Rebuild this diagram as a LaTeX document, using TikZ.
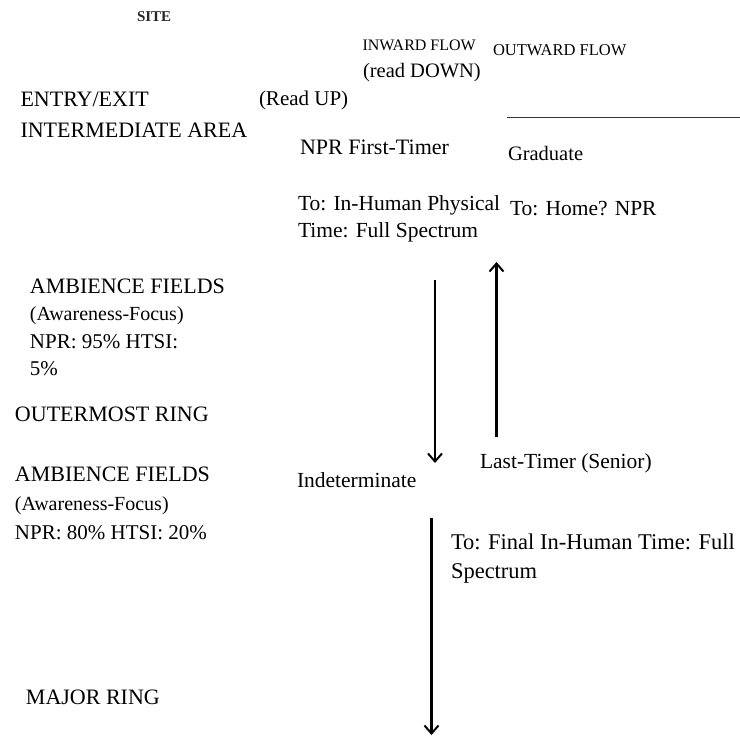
\documentclass[tikz,border=0pt]{standalone}
\usepackage{fontspec}
\setmainfont{Liberation Serif}
\usetikzlibrary{arrows.meta}
\newcommand{\fs}[1]{\fontsize{#1}{#1}\selectfont}
\tikzset{
  lbl/.style={inner sep=0pt, outer sep=0pt, anchor=base west, font=\fs{22}},
  flowarrow/.style={line width=2.5pt, -{Straight Barb[length=8pt,width=14pt,line width=2pt]}},
}
\begin{document}
\begin{tikzpicture}[x=1pt,y=-1pt]
\useasboundingbox (0,0) rectangle (740,737);
% headers
\node[lbl, font=\fs{15}\bfseries, text=black!85] (site) at (137,21) {SITE};
\node[lbl, font=\fs{16}] (inward) at (362.5,50) {INWARD FLOW};
\node[lbl, font=\fs{16.5}] (outward) at (493,55) {OUTWARD FLOW};
\node[lbl, font=\fs{20.5}] (readdown) at (363,77) {(read DOWN)};
\node[lbl, font=\fs{21}] (readup) at (259,105) {(Read UP)};
\node[lbl] (entry) at (20.5,106.5) {ENTRY/EXIT};
\node[lbl] (intermediate) at (20.5,137) {INTERMEDIATE AREA};
\coordinate (rulestart) at (507,117.5);
\coordinate (ruleend) at (740,117.5);
\draw[line width=1.5pt, black!80] (rulestart) -- (ruleend);
% inward / outward texts
\node[lbl] (firsttimer) at (300,154.5) {NPR First-Timer};
\node[lbl, font=\fs{20.5}] (graduate) at (508,160) {Graduate};
\node[lbl, font=\fs{21.5}] (tophys) at (298,210) {To: In-Human Physical};
\node[lbl, font=\fs{21.5}] (timefull) at (298,237) {Time: Full Spectrum};
\node[lbl, font=\fs{21.5}] (tohome) at (510,215) {To: Home? NPR};
% left column
\node[lbl] (amb1) at (30,293.5) {AMBIENCE FIELDS};
\node[lbl, font=\fs{20}] (aware1) at (30,320.5) {(Awareness-Focus)};
\node[lbl, font=\fs{21}] (npr1) at (30,348) {NPR: 95\% HTSI:};
\node[lbl, font=\fs{21}] (npr1b) at (30,375) {5\%};
\node[lbl] (outermost) at (15,421) {OUTERMOST RING};
\node[lbl] (amb2) at (15,481) {AMBIENCE FIELDS};
\node[lbl, font=\fs{20}] (aware2) at (15,510) {(Awareness-Focus)};
\node[lbl, font=\fs{21}] (npr2) at (15,539.5) {NPR: 80\% HTSI: 20\%};
\node[lbl] (major) at (26,704) {MAJOR RING};
% middle
\node[lbl, font=\fs{21.5}] (lasttimer) at (480,468) {Last-Timer (Senior)};
\node[lbl, font=\fs{21.5}] (indet) at (297,487) {Indeterminate};
\node[lbl, font=\fs{22.5}] (tofinal) at (451,549.5) {To: Final In-Human Time: Full};
\node[lbl, font=\fs{22.5}] (spectrum) at (451,578.5) {Spectrum};
% arrows
\coordinate (a1s) at (435,280);
\coordinate (a1e) at (435,463);
\coordinate (a2s) at (496.5,437);
\coordinate (a2e) at (496.5,262);
\coordinate (a3s) at (431.5,518);
\coordinate (a3e) at (431.5,735);
\draw[flowarrow] (a1s) -- (a1e);
\draw[flowarrow] (a2s) -- (a2e);
\draw[flowarrow] (a3s) -- (a3e);
\end{tikzpicture}
\end{document}
